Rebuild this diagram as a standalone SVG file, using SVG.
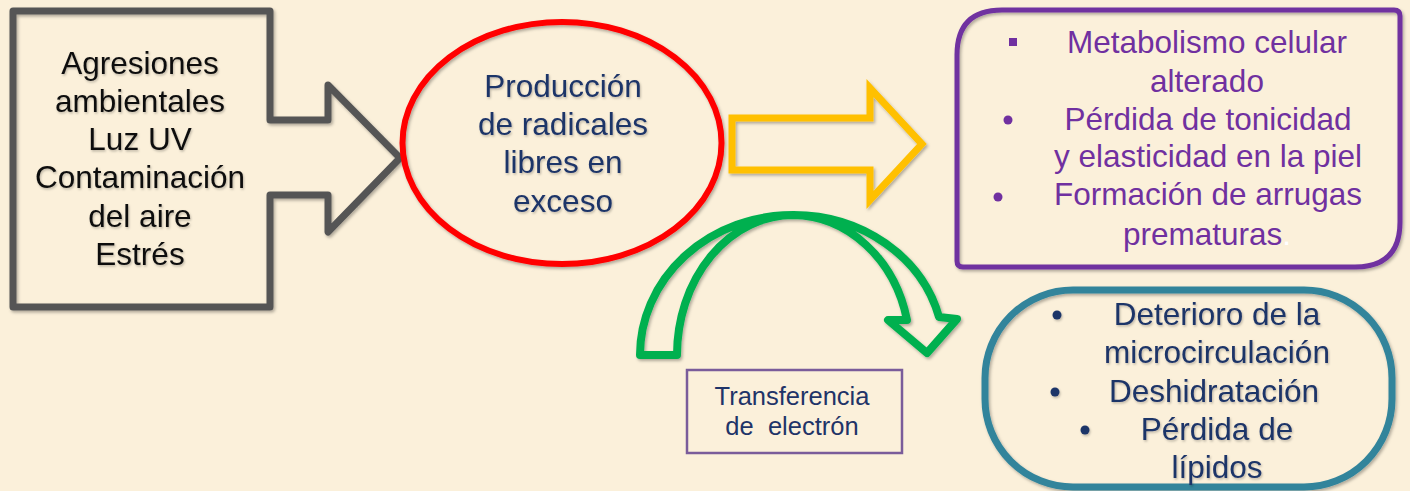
<svg xmlns="http://www.w3.org/2000/svg" width="1410" height="491" viewBox="0 0 1410 491">
<defs>
<filter id="sh" x="-10%" y="-10%" width="130%" height="130%"><feDropShadow dx="1.5" dy="2" stdDeviation="1.5" flood-color="#000" flood-opacity="0.3"/></filter>
<filter id="tsh" x="-5%" y="-10%" width="115%" height="130%"><feDropShadow dx="1" dy="1.5" stdDeviation="1" flood-color="#000" flood-opacity="0.25"/></filter>
</defs>
<style>
text{font-family:"Liberation Sans",Arial,sans-serif;text-anchor:middle;}
.big{font-size:31.5px;}
.dark{fill:#111;}
.navy{fill:#1F3468;}
.purp{fill:#7030A0;}
.sm{font-size:25.5px;}
</style>
<rect width="1410" height="491" fill="#FBF0DA"/>
<g id="n-agresiones">
<path d="M13,11 H270 V120 H328 V85 L400,158 L328,232 V195 H270 V307 H13 Z" fill="none" stroke="#555555" stroke-width="7" stroke-linejoin="round" filter="url(#sh)"/>
<g class="big dark" filter="url(#tsh)">
<text x="140" y="74">Agresiones</text>
<text x="140" y="112">ambientales</text>
<text x="140" y="150">Luz UV</text>
<text x="140" y="188">Contaminación</text>
<text x="140" y="227">del aire</text>
<text x="140" y="265">Estrés</text>
</g>
</g>
<g id="n-produccion">
<ellipse cx="562" cy="143" rx="159.5" ry="121" fill="none" stroke="#FF0000" stroke-width="6" filter="url(#sh)"/>
<g class="big navy" filter="url(#tsh)">
<text x="563" y="97">Producción</text>
<text x="563" y="135">de radicales</text>
<text x="563" y="173">libres en</text>
<text x="563" y="212">exceso</text>
</g>
</g>
<g id="connectors">
<path d="M732,118 H870 V88 L922,144 L870,200 V170 H732 Z" fill="none" stroke="#FFC000" stroke-width="7" filter="url(#sh)"/>
<path d="M640,355 A153,140 0 0 1 793,215 A150,135 0 0 1 939,317 L957,319 L927,353 L888,320 L907,320 A118,135 0 0 0 793,215 A116,140 0 0 0 677,355 Z" fill="none" stroke="#00B050" stroke-width="8" stroke-linejoin="round" filter="url(#sh)"/>
</g>
<g id="n-transferencia">
<rect x="687" y="370" width="215" height="83" fill="none" stroke="#7A5C9A" stroke-width="2.5"/>
<text class="sm navy" x="792" y="405">Transferencia</text>
<text class="sm navy" x="792" y="435" xml:space="preserve">de  electrón</text>
</g>
<g id="n-efectos">
<path d="M1002,10 H1394 Q1400,10 1400,16 V222 Q1400,267 1355,267 H963 Q957,267 957,261 V55 Q957,10 1002,10 Z" fill="none" stroke="#7030A0" stroke-width="5" filter="url(#sh)"/>
<g class="big purp">
<rect x="1009" y="38" width="8" height="8"/>
<circle cx="1008" cy="120" r="4.5"/>
<circle cx="998" cy="197" r="4.5"/>
<text x="1207" y="53">Metabolismo celular</text>
<text x="1207" y="92">alterado</text>
<text x="1208" y="130">Pérdida de tonicidad</text>
<text x="1208" y="167">y elasticidad en la piel</text>
<text x="1208" y="205">Formación de arrugas</text>
<text x="1207" y="245">prematuras<tspan fill="#FFFFFF">.</tspan></text>
</g>
</g>
<g id="n-piel">
<rect x="985" y="290" width="407" height="197" rx="88" ry="88" fill="none" stroke="#31849B" stroke-width="7" filter="url(#sh)"/>
<g class="big navy" filter="url(#tsh)">
<circle cx="1057" cy="315" r="4.5"/>
<circle cx="1055" cy="392" r="4.5"/>
<circle cx="1085" cy="430" r="4.5"/>
<text x="1217" y="325">Deterioro de la</text>
<text x="1217" y="363">microcirculación</text>
<text x="1214" y="402">Deshidratación</text>
<text x="1217" y="440">Pérdida de</text>
<text x="1217" y="478">lípidos</text>
</g>
</g>
</svg>
